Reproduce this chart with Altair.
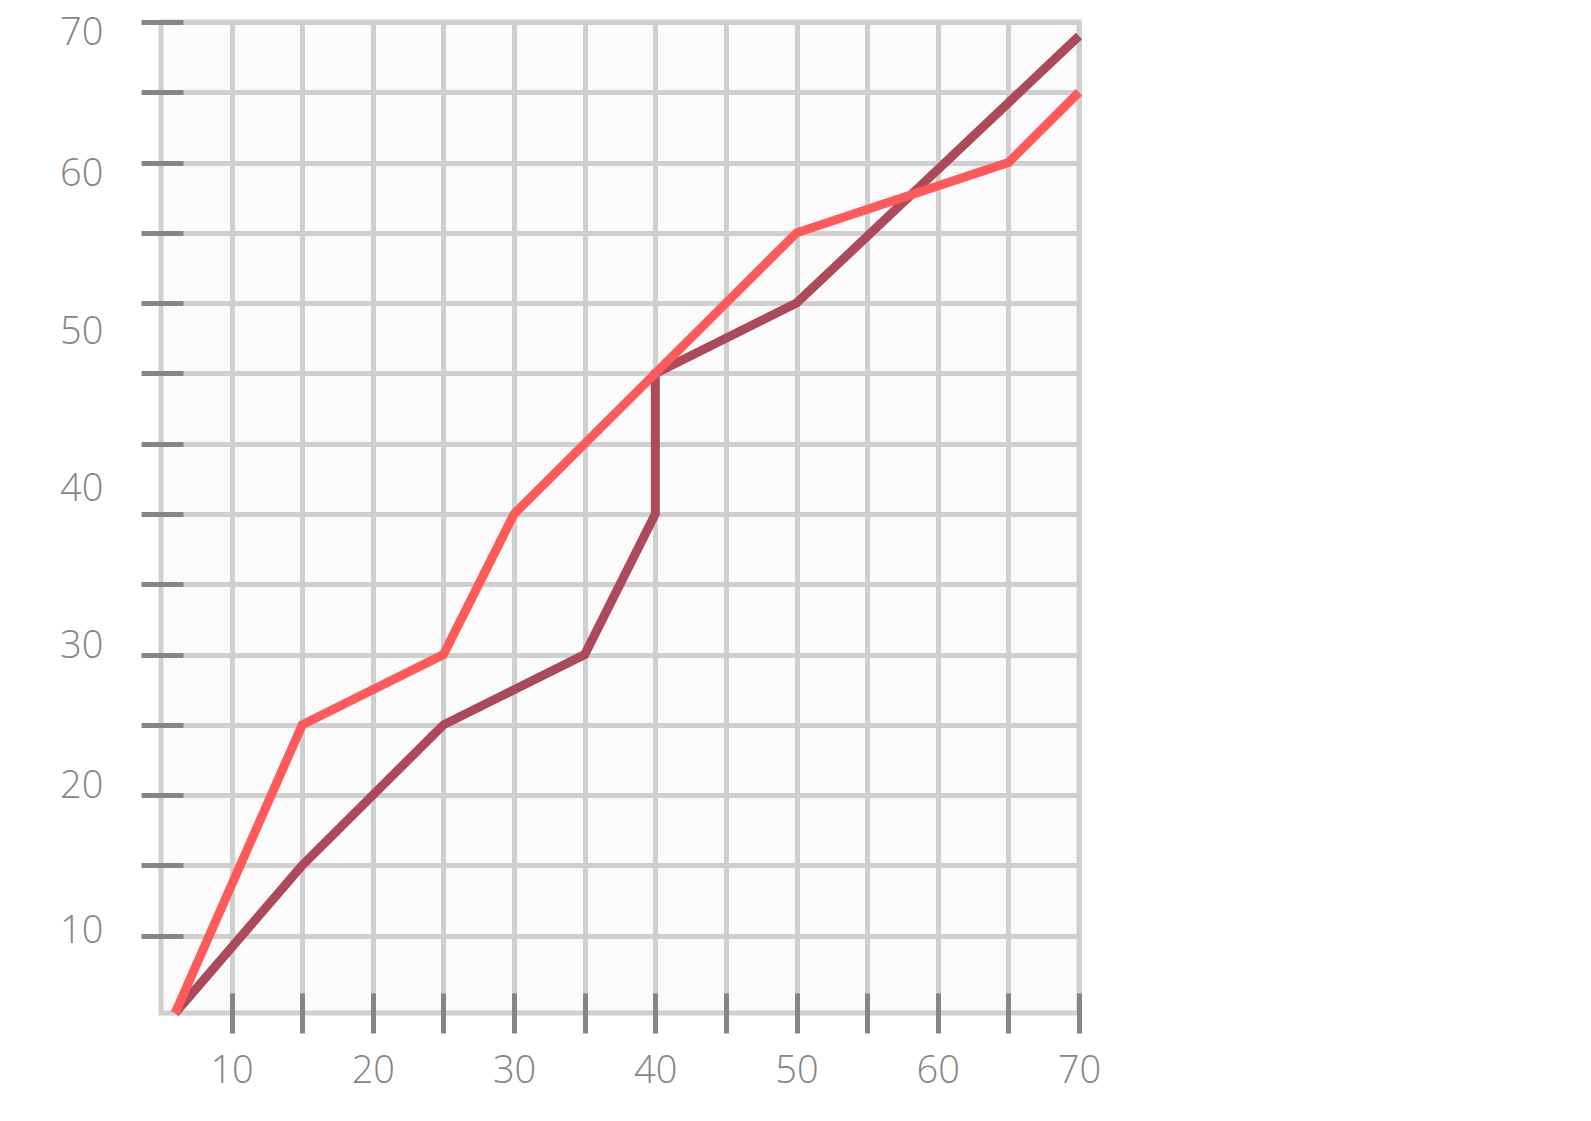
import altair as alt
import pandas as pd

# ---- data ----
dark_x = [6, 15, 25, 35, 40, 40, 50, 70]
dark_y = [-0.5, 10, 20, 25, 35, 45, 50, 69]
light_x = [6, 15, 25, 30, 40, 50, 65, 70]
light_y = [-0.5, 20, 25, 35, 45, 55, 60, 65]

series_names = ["dark", "light"]
series_colors = ["#ad4a5a", "#ff5a5a"]

x_tick_values = [10, 15, 20, 25, 30, 35, 40, 45, 50, 55, 60, 65, 70]
y_tick_values = [5, 10, 15, 20, 25, 30, 35, 40, 45, 50, 55, 60, 65, 70]
y_label_values = [70, 60, 50, 40, 30, 20, 10]
y_label_shift = [11, 12, 29, 46, 62, 62, 66]

rows = []
for name, xs, ys in [("dark", dark_x, dark_y), ("light", light_x, light_y)]:
    for i, (xv, yv) in enumerate(zip(xs, ys)):
        rows.append({"series": name, "order": i, "x": xv, "y": yv})
df = pd.DataFrame(rows)

GRID = "#cfcfcf"
TICK = "#858585"
LABEL = "#858585"
FONT = "Open Sans"
FS = 38
LW = 9

x_enc = alt.X(
    "x:Q",
    scale=alt.Scale(domain=[5, 70], nice=False, zero=False),
    axis=alt.Axis(
        values=x_tick_values, title=None, grid=True, gridColor=GRID, gridWidth=5,
        domain=False, ticks=True, tickColor=TICK, tickWidth=5, tickSize=40, offset=-20,
        labelExpr="datum.value % 10 === 0 ? datum.label : ''",
        labelFont=FONT, labelFontSize=FS, labelFontWeight=300, labelColor=LABEL,
        labelPadding=19, labelFlush=False, labelOverlap=False,
    ),
)

y_scale = alt.Scale(domain=[-0.5, 70], nice=False, zero=False)

offset_expr = "[{}][indexof([{}], datum.value)]".format(
    ",".join(str(v) for v in y_label_shift), ",".join(str(v) for v in y_label_values)
)

y_grid_axis = alt.Axis(
    values=y_tick_values, title=None, orient="left", grid=True, gridColor=GRID, gridWidth=5,
    domain=False, ticks=True, tickColor=TICK, tickWidth=5, tickSize=42, offset=-22,
    labels=False,
)
y_label_axis = alt.Axis(
    values=y_label_values, title=None, orient="left", grid=False, domain=False,
    ticks=False, tickSize=0, labelPadding=58, labelOffset=alt.ExprRef(expr=offset_expr),
    labelFont=FONT, labelFontSize=FS, labelFontWeight=300, labelColor=LABEL,
    labelFlush=False, labelOverlap=False,
)

color_enc = alt.Color(
    "series:N", scale=alt.Scale(domain=series_names, range=series_colors), legend=None
)

base = alt.Chart(df)

dark = base.transform_filter(alt.datum.series == "dark").mark_line(
    strokeWidth=LW, strokeCap="butt"
).encode(
    x=x_enc,
    y=alt.Y("y:Q", scale=y_scale, axis=y_grid_axis),
    color=color_enc,
    order="order:Q",
)

light = base.transform_filter(alt.datum.series == "light").mark_line(
    strokeWidth=LW, strokeCap="butt"
).encode(
    x=x_enc,
    y=alt.Y("y:Q", scale=y_scale, axis=y_label_axis),
    color=color_enc,
    order="order:Q",
)

chart = (
    alt.layer(dark, light)
    .resolve_axis(y="independent")
    .properties(
        width=918,
        height=991,
        padding={"left": 153, "top": 14, "right": 60, "bottom": 95},
        autosize=alt.AutoSizeParams(type="none"),
        background="white",
    )
    .configure_view(stroke=GRID, strokeWidth=5, fill="#fbfbfb")
)

chart.save("out.html", embed_options={"renderer": "svg", "actions": False})
